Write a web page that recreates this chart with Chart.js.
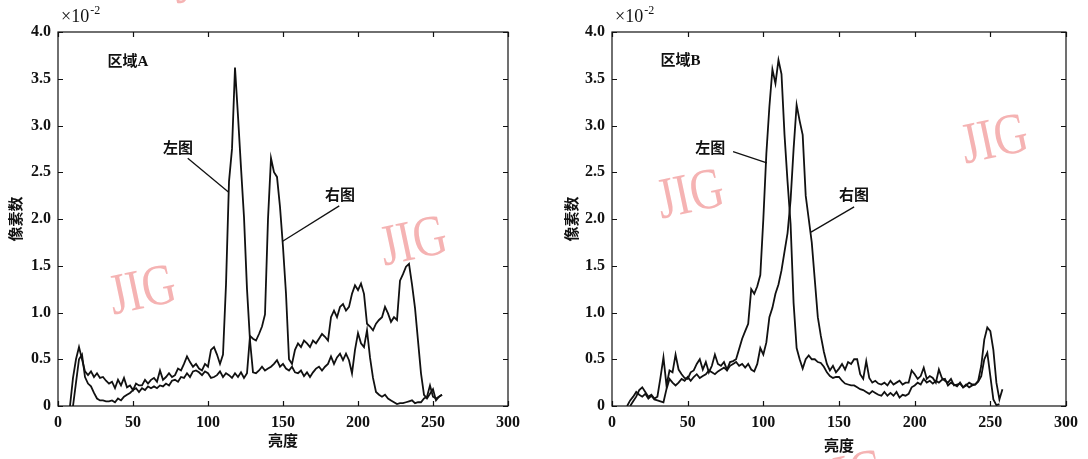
<!DOCTYPE html>
<html>
<head>
<meta charset="utf-8">
<script src="https://cdn.jsdelivr.net/npm/chart.js@4.4.1/dist/chart.umd.min.js"></script>
<style>
  body { margin: 0; background: #fff; }
  #wrap { position: relative; width: 1088px; height: 459px; overflow: hidden; }
  canvas { position: absolute; top: 0; }
  .wm {
    position: absolute; color: #f5b3b3; font-family: 'Liberation Serif'; font-size: 58px;
    line-height: 1; transform: translate(-50%, -50%) rotate(-12deg) scaleX(0.8);
  }
</style>
</head>
<body>
<div id="wrap">
  <div class="wm" style="left:142px; top:289px">JIG</div>
  <div class="wm" style="left:413px; top:240px">JIG</div>
  <div class="wm" style="left:205px; top:-22px">JIG</div>
  <div class="wm" style="left:690px; top:193px">JIG</div>
  <div class="wm" style="left:994px; top:138px">JIG</div>
  <div class="wm" style="left:850px; top:474px">JIG</div>
  <canvas id="panelA" width="544" height="459" style="left:0"></canvas>
  <canvas id="panelB" width="544" height="459" style="left:544px"></canvas>
</div>
<script>
// brightness grid (x), one sample every 2 levels
const brightness = Array.from({ length: 130 }, (_, i) => i * 2);

const xTickValues = [0, 50, 100, 150, 200, 250, 300];
const yTickValues = [0, 0.5, 1.0, 1.5, 2.0, 2.5, 3.0, 3.5, 4.0];
const seriesNames = ['左图', '右图'];

// 区域A  (values in units of 1e-2)
const regionA_left = [
  null, null, null, null, 0, 0.3, 0.5, 0.63, 0.5, 0.37,
  0.33, 0.37, 0.31, 0.35, 0.3, 0.31, 0.27, 0.24, 0.26, 0.19,
  0.28, 0.22, 0.3, 0.2, 0.22, 0.17, 0.24, 0.22, 0.22, 0.28,
  0.24, 0.28, 0.3, 0.26, 0.38, 0.28, 0.31, 0.35, 0.31, 0.33,
  0.4, 0.38, 0.45, 0.53, 0.47, 0.42, 0.45, 0.4, 0.38, 0.45,
  0.42, 0.6, 0.63, 0.55, 0.45, 0.55, 1.3, 2.4, 2.75, 3.62,
  3.1, 2.55, 2.02, 1.25, 0.7, 0.36, 0.35, 0.38, 0.42, 0.38,
  0.4, 0.42, 0.45, 0.49, 0.42, 0.45, 0.4, 0.38, 0.42, 0.36,
  0.35, 0.38, 0.32, 0.36, 0.31, 0.36, 0.4, 0.42, 0.38, 0.42,
  0.45, 0.53, 0.45, 0.52, 0.56, 0.49, 0.56, 0.49, 0.35, 0.6,
  0.78, 0.67, 0.63, 0.81, 0.52, 0.3, 0.15, 0.12, 0.1, 0.12,
  0.08, 0.06, 0.04, 0.02, 0.03, 0.03, 0.04, 0.05, 0.06, 0.03,
  0.04, 0.04, 0.08, 0.1, 0.22, 0.1, 0.08, 0.1, 0.12, null
];
const regionA_right = [
  null, null, null, null, null, 0, 0.25, 0.5, 0.55, 0.31,
  0.24, 0.21, 0.14, 0.08, 0.06, 0.06, 0.05, 0.05, 0.06, 0.04,
  0.08, 0.06, 0.1, 0.12, 0.14, 0.17, 0.19, 0.15, 0.19, 0.17,
  0.21, 0.19, 0.21, 0.19, 0.22, 0.21, 0.24, 0.22, 0.27, 0.28,
  0.26, 0.31, 0.3, 0.35, 0.31, 0.37, 0.38, 0.36, 0.33, 0.37,
  0.35, 0.3, 0.31, 0.33, 0.37, 0.31, 0.35, 0.33, 0.3, 0.35,
  0.31, 0.36, 0.3, 0.35, 0.75, 0.72, 0.7, 0.77, 0.85, 0.98,
  2.0, 2.65, 2.5, 2.45, 2.13, 1.7, 1.2, 0.5, 0.45, 0.6,
  0.67, 0.63, 0.7, 0.67, 0.63, 0.7, 0.67, 0.72, 0.77, 0.74,
  0.7, 0.95, 1.02, 0.95, 1.06, 1.09, 1.02, 1.06, 1.2, 1.29,
  1.24, 1.31, 1.2, 0.88, 0.85, 0.81, 0.88, 0.92, 0.95, 1.06,
  0.99, 0.9, 0.95, 0.92, 1.34, 1.41, 1.49, 1.52, 1.3, 1.05,
  0.7, 0.35, 0.12, 0.08, 0.13, 0.18, 0.06, 0.1, 0.12, null
];

// 区域B
const regionB_left = [
  null, null, null, null, null, null, 0, 0.05, 0.1, 0.17,
  0.2, 0.15, 0.1, 0.12, 0.08, 0.1, 0.3, 0.52, 0.22, 0.38,
  0.36, 0.55, 0.39, 0.34, 0.3, 0.29, 0.36, 0.38, 0.45, 0.5,
  0.39, 0.47, 0.36, 0.43, 0.55, 0.45, 0.43, 0.47, 0.39, 0.47,
  0.48, 0.5, 0.61, 0.72, 0.8, 0.88, 1.25, 1.2, 1.28, 1.4,
  2.0, 2.7, 3.2, 3.6, 3.45, 3.7, 3.55, 2.9, 2.4, 1.95,
  1.1, 0.62, 0.5, 0.4, 0.5, 0.54, 0.5, 0.5, 0.47, 0.46,
  0.42, 0.36, 0.32, 0.3, 0.31, 0.31, 0.27, 0.24, 0.23, 0.22,
  0.22, 0.2, 0.18, 0.17, 0.15, 0.13, 0.16, 0.14, 0.12, 0.11,
  0.15, 0.11, 0.14, 0.11, 0.15, 0.09, 0.12, 0.11, 0.13, 0.2,
  0.22, 0.25, 0.23, 0.29, 0.25, 0.27, 0.24, 0.27, 0.25, 0.28,
  0.29, 0.22, 0.25, 0.23, 0.21, 0.25, 0.2, 0.23, 0.2, 0.22,
  0.23, 0.26, 0.32, 0.5, 0.57, 0.32, 0.07, 0.01, 0.02, null
];
const regionB_right = [
  null, null, null, null, null, 0, 0.06, 0.1, 0.15, 0.12,
  0.1, 0.13, 0.08, 0.11, 0.07, 0.06, 0.05, 0.04, 0.18, 0.29,
  0.25, 0.22, 0.25, 0.29, 0.27, 0.31, 0.27, 0.31, 0.34, 0.3,
  0.32, 0.34, 0.38, 0.36, 0.34, 0.37, 0.39, 0.41, 0.38, 0.43,
  0.45, 0.47, 0.43, 0.45, 0.41, 0.45, 0.39, 0.37, 0.45, 0.62,
  0.55, 0.68, 0.95, 1.05, 1.2, 1.3, 1.45, 1.65, 1.85, 2.2,
  2.75, 3.22, 3.05, 2.9, 2.25, 2.0, 1.75, 1.35, 0.95, 0.75,
  0.58, 0.45, 0.38, 0.43, 0.36, 0.4, 0.45, 0.39, 0.47, 0.45,
  0.5, 0.5, 0.34, 0.29, 0.48, 0.3, 0.25, 0.27, 0.24, 0.23,
  0.25, 0.22, 0.27, 0.23, 0.25, 0.27, 0.23, 0.25, 0.25, 0.38,
  0.34, 0.29, 0.32, 0.41, 0.29, 0.32, 0.3, 0.25, 0.39, 0.3,
  0.27, 0.25, 0.29, 0.22, 0.23, 0.24, 0.2, 0.22, 0.25, 0.23,
  0.23, 0.27, 0.43, 0.71, 0.84, 0.8, 0.6, 0.25, 0.07, 0.18
];

const cjk = "'Liberation Serif', 'Noto Sans CJK SC'";

// box, inward ticks, exponent and callouts
const frame = {
  id: 'frame',
  afterDatasetsDraw(chart, args, opts) {
    const { ctx, chartArea: a, scales: { x, y } } = chart;
    ctx.save();
    ctx.strokeStyle = '#111';
    ctx.lineWidth = 1.2;
    ctx.strokeRect(a.left, a.top, a.right - a.left, a.bottom - a.top);
    ctx.beginPath();
    x.ticks.forEach(t => {
      const px = Math.round(x.getPixelForValue(t.value)) + 0.5;
      ctx.moveTo(px, a.bottom); ctx.lineTo(px, a.bottom - 5);
      ctx.moveTo(px, a.top); ctx.lineTo(px, a.top + 5);
    });
    y.ticks.forEach(t => {
      const py = Math.round(y.getPixelForValue(t.value)) + 0.5;
      ctx.moveTo(a.left, py); ctx.lineTo(a.left + 5, py);
      ctx.moveTo(a.right, py); ctx.lineTo(a.right - 5, py);
    });
    ctx.stroke();

    ctx.fillStyle = '#111';
    ctx.textBaseline = 'middle';
    ctx.textAlign = 'left';
    ctx.font = "18px 'Liberation Serif'";
    ctx.fillText('×10', a.left + 3, a.top - 15);
    const w = ctx.measureText('×10').width;
    ctx.font = "12px 'Liberation Serif'";
    ctx.fillText('-2', a.left + 4 + w, a.top - 21);

    ctx.font = 'bold 15px ' + cjk;
    ctx.lineWidth = 1.3;
    opts.notes.forEach(n => {
      ctx.fillText(n.text, x.getPixelForValue(n.x), y.getPixelForValue(n.y));
      if (n.line) {
        ctx.beginPath();
        ctx.moveTo(x.getPixelForValue(n.line[0]), y.getPixelForValue(n.line[1]));
        ctx.lineTo(x.getPixelForValue(n.line[2]), y.getPixelForValue(n.line[3]));
        ctx.stroke();
      }
    });
    ctx.restore();
  }
};

function makePanel(id, leftVals, rightVals, geom, notes) {
  return new Chart(document.getElementById(id), {
    type: 'line',
    data: {
      datasets: [leftVals, rightVals].map((vals, k) => ({
        label: seriesNames[k],
        data: brightness.map((b, i) => ({ x: b, y: vals[i] })),
        borderColor: '#111',
        borderWidth: 1.8,
        pointRadius: 0,
        tension: 0,
        fill: false
      }))
    },
    options: {
      responsive: false,
      animation: false,
      devicePixelRatio: 1,
      layout: { padding: { left: 0, right: geom.padRight, top: 32, bottom: 0 } },
      plugins: {
        legend: { display: false },
        tooltip: { enabled: false },
        frame: { notes }
      },
      scales: {
        x: {
          type: 'linear', min: 0, max: 300,
          afterBuildTicks: s => { s.ticks = xTickValues.map(v => ({ value: v })); },
          afterFit: s => { s.height = geom.xHeight; },
          grid: { display: false, drawTicks: false, tickLength: 0 }, border: { display: false },
          ticks: { color: '#111', padding: 7, maxRotation: 0,
                   font: { family: "'Liberation Serif'", size: 16, weight: 'bold' } },
          title: { display: true, text: '亮度', color: '#111',
                   font: { family: cjk, size: 15, weight: 'bold' },
                   padding: { top: 0, bottom: geom.xTitlePad } }
        },
        y: {
          min: 0, max: 4,
          afterBuildTicks: s => { s.ticks = yTickValues.map(v => ({ value: v })); },
          afterFit: s => { s.width = geom.yWidth; },
          grid: { display: false, drawTicks: false, tickLength: 0 }, border: { display: false },
          ticks: { color: '#111', padding: 7,
                   callback: v => v === 0 ? '0' : v.toFixed(1),
                   font: { family: "'Liberation Serif'", size: 16, weight: 'bold' } },
          title: { display: true, text: '像素数', color: '#111',
                   font: { family: cjk, size: 15, weight: 'bold' },
                   padding: { top: geom.yTitlePad, bottom: 0 } }
        }
      }
    },
    plugins: [frame]
  });
}

makePanel('panelA', regionA_left, regionA_right,
  { padRight: 36, xHeight: 53, yWidth: 58, xTitlePad: 8, yTitlePad: 8 },
  [
    { text: '区域A', x: 33, y: 3.68 },
    { text: '左图', x: 70, y: 2.75, line: [86.5, 2.65, 113.6, 2.29] },
    { text: '右图', x: 178, y: 2.25, line: [187.5, 2.14, 149.5, 1.76] }
  ]);

makePanel('panelB', regionB_left, regionB_right,
  { padRight: 22, xHeight: 53, yWidth: 68, xTitlePad: 3, yTitlePad: 20 },
  [
    { text: '区域B', x: 32, y: 3.69 },
    { text: '左图', x: 55, y: 2.75, line: [80, 2.72, 102.3, 2.6] },
    { text: '右图', x: 150, y: 2.25, line: [160, 2.13, 131.5, 1.86] }
  ]);
</script>
</body>
</html>
